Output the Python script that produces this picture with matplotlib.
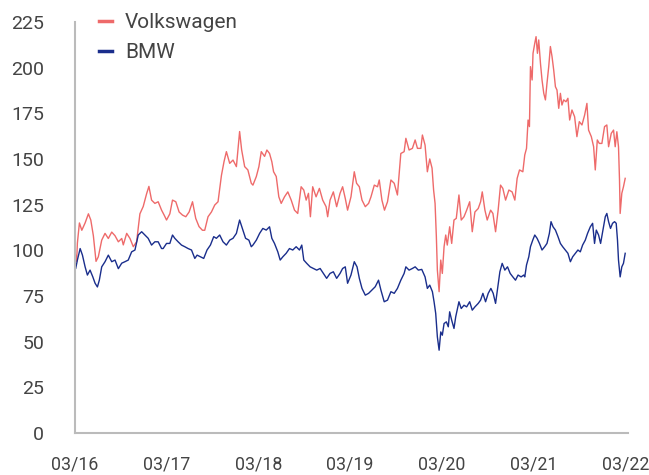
import matplotlib
matplotlib.use("Agg")
import matplotlib.pyplot as plt

# time in years since 03/2016
vw_t = [0, 0.022, 0.030, 0.052, 0.078, 0.114, 0.150, 0.176, 0.204, 0.233, 0.258, 0.295, 0.331, 0.367,
        0.404, 0.440, 0.476, 0.513, 0.530, 0.567, 0.603, 0.639, 0.675, 0.711, 0.747, 0.784, 0.809, 0.838,
        0.874, 0.910, 0.947, 0.975, 1.001, 1.037, 1.066, 1.102, 1.138, 1.175, 1.211, 1.247, 1.284, 1.319,
        1.355, 1.392, 1.417, 1.453, 1.490, 1.526, 1.562, 1.599, 1.627, 1.653, 1.689, 1.725, 1.762, 1.797,
        1.819, 1.852, 1.887, 1.924, 1.942, 1.979, 2.007, 2.033, 2.069, 2.094, 2.123, 2.148, 2.167, 2.196,
        2.224, 2.250, 2.286, 2.322, 2.359, 2.395, 2.430, 2.467, 2.496, 2.522, 2.547, 2.568, 2.593, 2.630,
        2.666, 2.702, 2.739, 2.756, 2.782, 2.818, 2.854, 2.891, 2.919, 2.948, 2.973, 3.010, 3.046, 3.071,
        3.101, 3.130, 3.166, 3.202, 3.228, 3.264, 3.299, 3.318, 3.347, 3.375, 3.408, 3.445, 3.481, 3.516,
        3.553, 3.589, 3.608, 3.643, 3.679, 3.709, 3.734, 3.771, 3.788, 3.817, 3.842, 3.868, 3.893, 3.910,
        3.926, 3.940, 3.951, 3.970, 3.988, 4.005, 4.024, 4.042, 4.059, 4.085, 4.107, 4.132, 4.157, 4.186,
        4.211, 4.241, 4.270, 4.303, 4.331, 4.360, 4.396, 4.422, 4.440, 4.469, 4.494, 4.531, 4.556, 4.585,
        4.613, 4.639, 4.664, 4.694, 4.730, 4.765, 4.795, 4.820, 4.846, 4.882, 4.903, 4.922, 4.939, 4.954,
        4.965, 4.983, 4.993, 5.012, 5.026, 5.041, 5.055, 5.074, 5.091, 5.110, 5.128, 5.145, 5.164, 5.182,
        5.200, 5.218, 5.237, 5.254, 5.273, 5.291, 5.308, 5.327, 5.352, 5.373, 5.392, 5.417, 5.446, 5.471,
        5.497, 5.526, 5.555, 5.580, 5.598, 5.628, 5.653, 5.671, 5.693, 5.715, 5.743, 5.772, 5.797, 5.816,
        5.845, 5.870, 5.888, 5.906, 5.924, 5.935, 5.942, 5.960, 5.978, 5.997]
vw_v = [100, 94, 104, 115, 111, 115, 120, 116.6, 108, 94, 96.5, 105.6, 109.3, 106.5,
        110, 108, 104.7, 106.5, 103, 109.3, 106.5, 102, 104.7, 120, 124, 131, 135, 127.5,
        125.7, 126.6, 122, 119.3, 116.6, 120, 127.5, 126.6, 121, 119.3, 118.4, 121, 126.6, 117.5,
        113, 111, 111, 118.4, 121, 124.8, 126.6, 141, 148.5, 154, 147.6, 149.4, 145.8, 165,
        155, 145.8, 144, 136.7, 135.7, 140.4, 145.8, 154, 151.4, 154.9, 153, 148.5, 143, 140.4,
        129.3, 125.7, 129.3, 132, 127.5, 122, 120.2, 134.8, 133, 127.5, 131.2, 118.4, 134.8, 129.3,
        133.9, 127.5, 123.9, 118.4, 127.5, 132, 123.9, 131.2, 134.8, 128.4, 122, 129.3, 143, 136.7,
        134.8, 127.5, 123.9, 125.7, 129.3, 135.7, 134.8, 138.5, 127.5, 122, 126.6, 138.5, 136.7, 130.3,
        153, 154, 161.3, 154.9, 155.8, 160.4, 155.8, 155.8, 163.1, 157.6, 143, 150, 145, 133,
        125.7, 107.5, 89.2, 77.4, 94.7, 87.4, 102, 108.4, 102.9, 112.9, 103.8, 116.6, 117.5, 130.3,
        116.6, 118.4, 122, 126.6, 110.2, 121, 122.9, 126.6, 132, 122, 116.6, 122, 120.2, 110.2,
        122, 135.7, 133.9, 127.5, 133, 132, 127.5, 139.4, 144, 143, 152.2, 155.8, 171.3, 167.7,
        200.5, 193.2, 207.8, 213.3, 216.9, 207.8, 215.1, 202.3, 193.2, 185.9, 182.3, 191.4, 200.5, 211.5,
        206, 198.7, 189.5, 187.7, 177.7, 185.9, 179.5, 182.3, 181.3, 183.2, 171.3, 176.8, 173.1, 162.2,
        170.4, 168.6, 174, 180.4, 165.8, 162.2, 156.7, 144, 160.4, 158.5, 158.5, 167.7, 168.6, 156.7,
        164, 165.8, 156.7, 164.9, 156.7, 138.5, 120.2, 131.2, 134.8, 139.4]

bmw_t = [0, 0.011, 0.030, 0.060, 0.085, 0.114, 0.139, 0.168, 0.198, 0.223, 0.248, 0.269, 0.295, 0.331,
         0.367, 0.404, 0.440, 0.476, 0.513, 0.548, 0.584, 0.621, 0.657, 0.693, 0.730, 0.766, 0.801, 0.838,
         0.874, 0.910, 0.947, 0.964, 1.001, 1.037, 1.066, 1.091, 1.127, 1.164, 1.200, 1.236, 1.273, 1.309,
         1.334, 1.371, 1.406, 1.442, 1.479, 1.515, 1.544, 1.580, 1.616, 1.653, 1.689, 1.725, 1.762, 1.797,
         1.827, 1.862, 1.898, 1.924, 1.942, 1.979, 2.015, 2.050, 2.087, 2.123, 2.148, 2.177, 2.213, 2.239,
         2.268, 2.304, 2.340, 2.376, 2.413, 2.449, 2.474, 2.496, 2.528, 2.565, 2.601, 2.637, 2.674, 2.710,
         2.745, 2.782, 2.818, 2.854, 2.891, 2.919, 2.948, 2.973, 3.010, 3.046, 3.076, 3.101, 3.130, 3.166,
         3.202, 3.238, 3.274, 3.310, 3.336, 3.372, 3.408, 3.445, 3.481, 3.516, 3.553, 3.589, 3.608, 3.643,
         3.679, 3.709, 3.744, 3.781, 3.817, 3.842, 3.868, 3.897, 3.915, 3.933, 3.951, 3.970, 3.988, 4.005,
         4.024, 4.049, 4.070, 4.085, 4.107, 4.132, 4.151, 4.186, 4.211, 4.241, 4.270, 4.303, 4.331, 4.360,
         4.396, 4.422, 4.447, 4.476, 4.505, 4.534, 4.559, 4.585, 4.610, 4.632, 4.657, 4.686, 4.715, 4.744,
         4.773, 4.802, 4.830, 4.863, 4.892, 4.903, 4.922, 4.947, 4.965, 4.990, 5.012, 5.037, 5.063, 5.091,
         5.120, 5.145, 5.171, 5.189, 5.211, 5.237, 5.265, 5.291, 5.316, 5.345, 5.373, 5.400, 5.425, 5.454,
         5.482, 5.508, 5.533, 5.562, 5.587, 5.617, 5.642, 5.663, 5.682, 5.707, 5.729, 5.754, 5.780, 5.797,
         5.816, 5.837, 5.859, 5.881, 5.899, 5.913, 5.924, 5.942, 5.960, 5.978, 5.997]
bmw_v = [100, 90, 94.7, 101, 97.4, 91, 86.5, 89.2, 85.5, 82, 80, 83.7, 91, 93.8,
         97.4, 93.8, 94.7, 90, 93, 93.8, 94.7, 99.2, 100.2, 108.4, 110.2, 108.4, 106.6, 102.9,
         104.7, 104.7, 101, 101, 103.8, 103.8, 108.4, 106.6, 104.7, 102.9, 102, 101, 100.2, 95.6,
         97.4, 96.5, 95.6, 100.2, 102.9, 107.5, 106.6, 108.4, 104.7, 102.9, 105.6, 106.6, 109.3, 116.6,
         112, 106.6, 105.6, 102, 102.9, 105.6, 109.3, 112, 111.1, 112.9, 106.6, 103.8, 99.2, 94.7,
         96.5, 98.4, 101, 100.2, 102, 100.2, 102.9, 94.7, 92.9, 91, 90.1, 89.2, 90.1, 87.4,
         84.7, 87.4, 88.3, 84.7, 87.4, 90.1, 91, 82, 86.5, 93.8, 91, 84.7, 79.2, 75.5,
         76.5, 78.3, 80.1, 83.7, 78.3, 71.9, 72.8, 77.4, 76.5, 79.2, 83.7, 87.4, 91, 89.2,
         90.1, 91, 89.2, 89.6, 85.5, 79.2, 81, 77.4, 71.9, 65.5, 52.7, 45.4, 55.4, 53.6,
         60, 60.9, 58.2, 66.4, 61.8, 57.3, 63.7, 71.9, 68.2, 70, 69.1, 71.9, 67.3, 69.1,
         71, 72.8, 76.5, 71.9, 76.5, 79.2, 76.5, 71, 80.1, 88.3, 92.9, 89.2, 91, 87.4,
         85.5, 83.7, 86.5, 85.5, 86.5, 85.5, 92, 96.5, 102, 105.6, 108.4, 106.6, 103.8, 100.2,
         102, 103.8, 109.3, 115.7, 112.9, 111.1, 107.5, 103.8, 102, 100.2, 98.4, 93.8, 96.5, 98.4,
         100.2, 99.2, 102.9, 105.6, 109.3, 112.9, 114.8, 103.8, 111.1, 108.4, 103.8, 111.1, 118.4, 120.2,
         115.7, 112, 114.8, 115.7, 114.8, 105.6, 94.7, 85.5, 91, 92.9, 98.4]

x_ticks = [0, 1, 2, 3, 4, 5, 6]
x_labels = ["03/16", "03/17", "03/18", "03/19", "03/20", "03/21", "03/22"]
y_ticks = [0, 25, 50, 75, 100, 125, 150, 175, 200, 225]

plt.rcParams['font.family'] = ['Roboto', 'DejaVu Sans']

fig = plt.figure(figsize=(6.49, 4.75), dpi=100)
ax = fig.add_axes([0.115, 0.088, 0.853, 0.866])

ax.plot(vw_t, vw_v, color='#EE6A6A', lw=1.0, label='Volkswagen')
ax.plot(bmw_t, bmw_v, color='#1A2E8C', lw=1.0, label='BMW')

ax.set_xlim(0, 6.03)
ax.set_ylim(0, 225)
ax.set_xticks(x_ticks)
ax.set_xticklabels(x_labels)
ax.set_yticks(y_ticks)

for s in ['top', 'right']:
    ax.spines[s].set_visible(False)
for s in ['left', 'bottom']:
    ax.spines[s].set_color('#BBBBBB')
    ax.spines[s].set_linewidth(1.5)

ax.tick_params(axis='both', length=0, labelcolor='#444444')
ax.tick_params(axis='y', pad=22, labelsize=14)
ax.tick_params(axis='x', pad=16, labelsize=12.8)

leg = ax.legend(loc='upper left', bbox_to_anchor=(0.01, 1.066), frameon=False,
                prop={'size': 15}, handlelength=0.65, handletextpad=0.6,
                labelspacing=0.5, labelcolor='#444444')
for line in leg.get_lines():
    line.set_linewidth(2.5)

fig.savefig('out.png', dpi=100)
